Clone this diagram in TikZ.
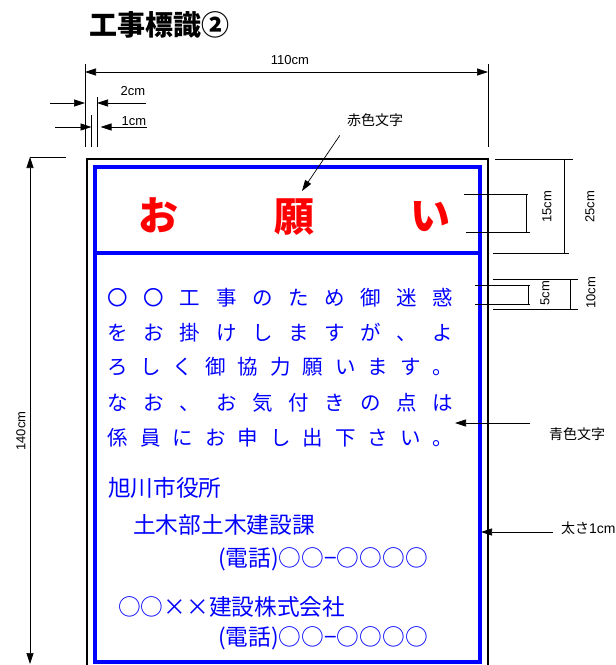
\documentclass[tikz,border=0pt]{standalone}
\usepackage{fontspec}
\setmainfont{Liberation Sans}
\newfontfamily\jpfont{Noto Sans CJK JP}
\usetikzlibrary{arrows.meta}
\definecolor{signblue}{RGB}{0,0,255}
\definecolor{signred}{RGB}{255,0,0}

\begin{document}
\begin{tikzpicture}[x=1pt, y=-1pt]

    \tikzstyle{dim}=[line width=0.7pt, black];
    \tikzstyle{tip}=[-{Triangle[length=11pt, width=7pt]}];
    \tikzstyle{tips}=[{Triangle[length=11pt, width=7pt]}-{Triangle[length=11pt, width=7pt]}];
    \tikzstyle{dimtext}=[font=\fontsize{13}{14}\selectfont, inner sep=0pt];
    \tikzstyle{note}=[font=\jpfont\fontsize{14}{15}\selectfont, inner sep=0pt, anchor=base];
    \tikzstyle{bodych}=[text=signblue, font=\jpfont\fontsize{20.5}{21}\selectfont, inner sep=0pt, anchor=base];
    \tikzstyle{bodyline}=[text=signblue, font=\jpfont\fontsize{22.7}{23}\selectfont, inner sep=0pt, anchor=base west];
    \tikzstyle{redch}=[text=signred, font=\jpfont\bfseries\fontsize{40}{40}\selectfont, inner sep=0pt, anchor=base];

    \useasboundingbox (0,0) rectangle (616,665);

    % title
    \node[font=\jpfont\bfseries\fontsize{28}{29}\selectfont, anchor=base west, inner sep=0pt] (title) at (89,35) {工事標識②};

    % sign frame
    \draw[line width=2pt] (86.5,159) rectangle (488,690);
    \draw[signblue, line width=4pt] (95,167) rectangle (480,662);
    \draw[signblue, line width=4pt] (95,253) -- (480,253);

    % red heading
    \node[redch] (o) at (158,230) {お};
    \node[redch] (negai) at (294,231) {願};
    \node[redch] (i) at (430,230) {い};

    % blue message
    \foreach \ch [count=\i from 0] in {〇,〇,工,事,の,た,め,御,迷,惑}
        \node[bodych] (la\i) at ({118+\i*36.11},305) {\ch};
    \foreach \ch [count=\i from 0] in {を,お,掛,け,し,ま,す,が,、,よ}
        \node[bodych] (lb\i) at ({118+\i*36.11},340) {\ch};
    \foreach \ch [count=\i from 0] in {ろ,し,く,御,協,力,願,い,ま,す,。}
        \node[bodych] (lc\i) at ({118+\i*32.5},374) {\ch};
    \foreach \ch [count=\i from 0] in {な,お,、,お,気,付,き,の,点,は}
        \node[bodych] (ld\i) at ({118+\i*36.11},410) {\ch};
    \foreach \ch [count=\i from 0] in {係,員,に,お,申,し,出,下,さ,い,。}
        \node[bodych] (le\i) at ({118+\i*32.5},445) {\ch};

    \node[bodyline] (office) at (108,496) {旭川市役所};
    \node[bodyline] (dept) at (133,533) {土木部土木建設課};
    \node[bodyline] (tel1) at (218,566) {(電話)○○−○○○○};
    \node[bodyline] (company) at (118,615) {○○××建設株式会社};
    \node[bodyline] (tel2) at (218,645) {(電話)○○−○○○○};

    % width 110cm
    \draw[dim] (85,64) -- (85,147);
    \draw[dim] (488,64) -- (488,147);
    \draw[dim, tips] (85,72) -- (488,72);
    \node[dimtext] (w110) at (290,60) {110cm};

    % 2cm and 1cm
    \draw[dim] (97,97) -- (97,147);
    \draw[dim] (91.5,115) -- (91.5,147);
    \draw[dim, tip] (50,103) -- (85,103);
    \draw[dim, tip] (146,103) -- (97,103);
    \node[dimtext] (w2) at (133,91) {2cm};
    \draw[dim, tip] (55,127) -- (91.5,127);
    \draw[dim, tip] (147,127) -- (100.5,127);
    \node[dimtext] (w1) at (134,121) {1cm};

    % height 140cm
    \draw[dim] (30,157) -- (66,157);
    \draw[dim, tips] (30,157) -- (30,664);
    \node[dimtext, rotate=90] (h140) at (21,431) {140cm};

    % 25cm / 15cm
    \draw[dim] (495,159) -- (573,159);
    \draw[dim] (493,253) -- (569,253);
    \draw[dim] (564,159) -- (564,253);
    \node[dimtext, rotate=90] (h25) at (590,207) {25cm};
    \draw[dim] (464,194) -- (528,194);
    \draw[dim] (466,232) -- (530,232);
    \draw[dim] (526,194) -- (526,232);
    \node[dimtext, rotate=90] (h15) at (547,207) {15cm};

    % 10cm / 5cm
    \draw[dim] (493,279) -- (578,279);
    \draw[dim] (493,309) -- (578,309);
    \draw[dim] (570,279) -- (570,309);
    \node[dimtext, rotate=90] (h10) at (591,293) {10cm};
    \draw[dim] (475,285) -- (530,285);
    \draw[dim] (475,304) -- (530,304);
    \draw[dim] (528,285) -- (528,304);
    \node[dimtext, rotate=90] (h5) at (545,293) {5cm};

    % notes
    \node[note] (rednote) at (375,125) {赤色文字};
    \coordinate (redtip) at (302,191);
    \draw[dim, tip] ([xshift=-7pt, yshift=-9pt]rednote.south west) -- (redtip);

    \node[note] (bluenote) at (577,439) {青色文字};
    \coordinate (bluetip) at (455,423);
    \draw[dim, tip] (530,423) -- (bluetip);

    \node[note, anchor=base west] (thicknote) at (561,533) {太さ{\rmfamily 1cm}};
    \coordinate (thicktip) at (481,532);
    \draw[dim, tip] (553,532) -- (thicktip);
    \end{tikzpicture}
\end{document}
